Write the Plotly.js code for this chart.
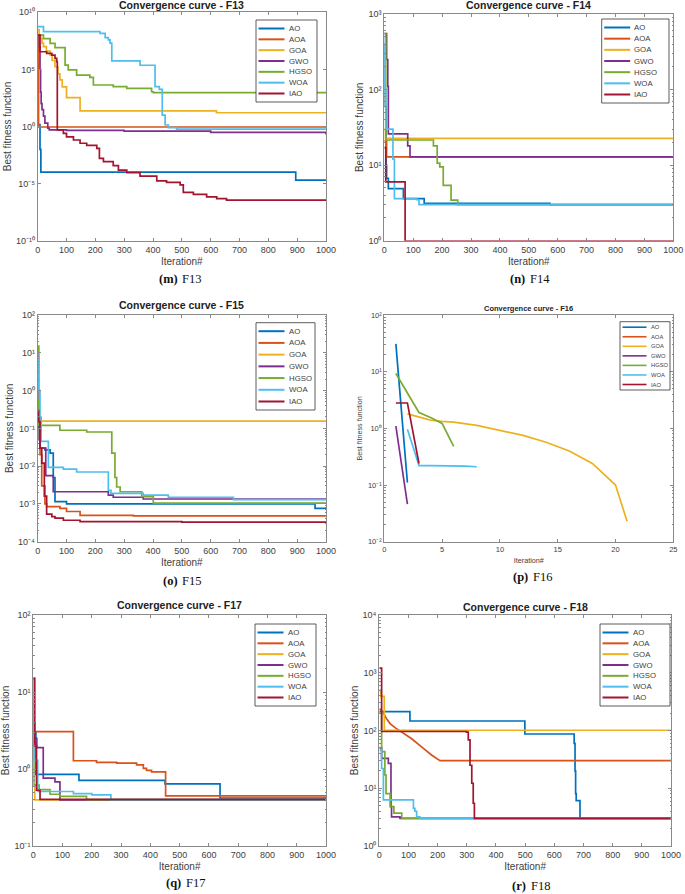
<!DOCTYPE html>
<html>
<head>
<meta charset="utf-8">
<script src="https://cdn.plot.ly/plotly-3.0.1.min.js"></script>
<style>html,body{margin:0;padding:0;background:#fff;}#chart{width:685px;height:894px;}</style>
</head>
<body>
<div id="chart"></div>
<script>
// ---------------- DATA ----------------
const algorithms = ['AO', 'AOA', 'GOA', 'GWO', 'HGSO', 'WOA', 'IAO'];
const colors = ['#0072BD', '#D95319', '#EDB120', '#7E2F8E', '#77AC30', '#4DBEEE', '#A2142F'];

// F13 (iteration breakpoints / best fitness), one row per algorithm in legend order
const F13_x = [
  [0, 5, 8, 11, 895, 1000],
  [0, 3, 1000],
  [0, 5, 10, 15, 20, 30, 43, 50, 60, 70, 77, 85, 100, 147, 620, 1000],
  [0, 3, 6, 8, 10, 12, 15, 20, 25, 35, 40, 100, 300, 600, 1000],
  [0, 3, 20, 43, 60, 95, 106, 135, 181, 193, 262, 309, 395, 401, 1000],
  [0, 20, 216, 234, 245, 251, 257, 355, 407, 422, 432, 442, 453, 482, 1000],
  [0, 8, 31, 49, 60, 66, 68, 89, 100, 124, 147, 170, 205, 214, 228, 262, 280, 309, 355, 413, 447, 494, 505, 540, 586, 621, 655, 1000]
];
const F13_y = [
  [1.5, 1.5, 1e-2, 1e-4, 2e-5, 2e-5],
  [1e8, 0.9, 0.9],
  [3e8, 1e8, 5e7, 2e7, 1e7, 4e6, 1.8e6, 6e5, 1.7e5, 4e4, 1.2e4, 3e3, 340, 23, 16, 14],
  [1e8, 1e8, 1e7, 1e5, 1e3, 100, 30, 8, 2, 0.7, 0.5, 0.45, 0.4, 0.3, 0.2],
  [1e8, 1e8, 5e7, 1.9e7, 8e6, 2.4e5, 9e4, 3.2e4, 2e4, 4.3e3, 3.1e3, 2.2e3, 1.1e3, 9.1e2, 9.1e2],
  [5.5e8, 2e8, 1.4e8, 6e7, 3.8e7, 2e7, 5.5e5, 2.3e5, 3.1e3, 1.8e3, 10, 1.35, 0.8, 0.6, 0.6],
  [1e8, 3.5e6, 2.5e6, 1.8e6, 9.4e5, 4.8e5, 0.5, 0.25, 0.125, 0.066, 0.034, 0.022, 0.012, 1.6e-3, 8.3e-4, 3.7e-4, 1.5e-4, 9e-5, 4.6e-5, 1.7e-5, 1.3e-5, 7.6e-6, 1.7e-6, 1.15e-6, 7e-7, 4.8e-7, 3.6e-7, 3.6e-7]
];

// F14
const F14_x = [
  [0, 3, 6, 8, 14, 66, 138, 573, 1000],
  [0, 3, 8, 1000],
  [0, 4, 1000],
  [0, 3, 8, 12, 14, 74, 81, 89, 1000],
  [0, 1, 5, 170, 183, 192, 204, 231, 254, 1000],
  [0, 3, 5, 25, 30, 35, 112, 120, 1000],
  [0, 2, 5, 66, 72, 1000]
];
const F14_y = [
  [400, 60, 10, 6.7, 4.9, 3.6, 3.12, 3.0, 3.0],
  [21, 21, 12.9, 12.9],
  [30, 22.6, 22.6],
  [550, 550, 250, 110, 26, 26, 18, 12.9, 12.9],
  [550, 550, 21.5, 18, 10.6, 9.5, 5.4, 3.45, 3.0, 3.0],
  [500, 100, 30, 30, 12, 3.6, 3.5, 3.0, 3.0],
  [17, 17, 6.0, 6.0, 0.99, 0.99]
];

// F15
const F15_x = [
  [0, 2, 8, 25, 43, 54, 60, 100, 962, 1000],
  [0, 3, 8, 14, 25, 31, 77, 100, 147, 332, 1000],
  [0, 1000],
  [0, 2, 5, 8, 28, 54, 245, 262, 366, 1000],
  [0, 4, 77, 170, 257, 268, 274, 286, 361, 401, 1000],
  [0, 3, 8, 12, 37, 89, 135, 245, 254, 366, 453, 679, 1000],
  [0, 3, 8, 14, 23, 31, 49, 60, 89, 147, 500, 1000]
];
const F15_y = [
  [0.3, 0.1, 0.03, 0.027, 0.022, 0.005, 1.15e-3, 1.0e-3, 7.6e-4, 7.6e-4],
  [1, 0.2, 0.02, 3e-3, 1e-3, 8.5e-4, 7.6e-4, 6.3e-4, 5e-4, 4.8e-4, 4.6e-4],
  [0.155, 0.155],
  [1, 0.5, 0.05, 0.03, 5.6e-3, 2.1e-3, 1.7e-3, 1.5e-3, 1.35e-3, 1.3e-3],
  [15, 0.12, 0.089, 0.08, 0.022, 5e-3, 2.8e-3, 2.1e-3, 1.55e-3, 1.05e-3, 1.05e-3],
  [8, 1.0, 0.2, 0.045, 9.3e-3, 8.3e-3, 7e-3, 2.3e-3, 1.9e-3, 1.7e-3, 1.5e-3, 1.3e-3, 1.25e-3],
  [0.3, 0.15, 0.03, 0.012, 1.6e-3, 5.4e-4, 4.6e-4, 4.2e-4, 3.7e-4, 3.4e-4, 3.3e-4, 3.3e-4]
];

// F16
const F16_x = [
  [1, 2],
  [1],
  [2, 4, 5, 6, 8, 10, 12, 14, 16, 18, 20, 21],
  [1, 2],
  [1, 2, 3, 4, 5, 6],
  [2, 3, 4, 5, 6, 7, 8],
  [1, 2, 3]
];
const F16_y = [
  [31, 0.11],
  [2.8],
  [1.8, 1.4, 1.33, 1.29, 1.13, 0.93, 0.75, 0.57, 0.40, 0.24, 0.10, 0.023],
  [1.1, 0.046],
  [9.3, 4.1, 1.9, 1.55, 1.22, 0.48],
  [0.96, 0.22, 0.22, 0.22, 0.22, 0.215, 0.21],
  [2.8, 2.8, 0.24]
];

// F17
const F17_x = [
  [0, 3, 9, 156, 450, 638, 1000],
  [0, 5, 137, 216, 285, 353, 376, 387, 404, 452, 1000],
  [0, 5, 1000],
  [0, 6, 12, 34, 74, 91, 1000],
  [0, 2, 20, 57, 91, 182, 1000],
  [0, 2, 15, 137, 200, 265, 1000],
  [0, 5, 11, 23, 1000]
];
const F17_y = [
  [15, 3, 0.85, 0.71, 0.64, 0.42, 0.42],
  [4, 3.05, 1.28, 1.22, 1.19, 1.13, 1.02, 0.96, 0.92, 0.447, 0.447],
  [0.6, 0.398, 0.398],
  [2.5, 2.5, 1.9, 0.76, 0.68, 0.398, 0.398],
  [3, 0.62, 0.54, 0.47, 0.44, 0.40, 0.40],
  [8, 1.3, 0.51, 0.48, 0.46, 0.40, 0.40],
  [15, 2, 0.53, 0.403, 0.403]
];

// F18
const F18_x = [
  [0, 105, 499, 668, 671, 673, 675, 688, 1000],
  [1, 14, 25, 37, 54, 82, 111, 145, 179, 208, 1000],
  [0, 5, 17, 1000],
  [0, 8, 31, 40, 42, 71, 1000],
  [0, 8, 19, 23, 37, 50, 77, 1000],
  [0, 8, 14, 117, 122, 128, 139, 1000],
  [0, 8, 299, 305, 311, 317, 322, 326, 1000]
];
const F18_y = [
  [213, 146, 87, 60, 20, 8.1, 6.1, 3.0, 3.0],
  [240, 200, 160, 132, 112, 91, 72, 52, 37.6, 30, 30],
  [500, 390, 101, 101],
  [50, 33, 27, 4.8, 3.2, 3.0, 3.0],
  [200, 43, 17, 8.1, 4.8, 3.7, 3.0, 3.0],
  [46, 22, 6.3, 4.5, 4.0, 3.2, 3.0, 3.0],
  [1200, 96, 94, 69, 25, 12.2, 5.5, 3.0, 3.0]
];

// ---------------- LAYOUT (pixel positions of each panel) ----------------
const W = 685, H = 894;
const panels = [
  {name: 'F13', tag: '(m)', xs: F13_x, ys: F13_y, box: [37.7, 12.3, 326, 240.7], xr: [0, 1000], dx: 100, yr: [-10, 10], dy: 5, minor: false,
   legend: [256, 20, 317, 102], titleY: 5.5, cap: [180, 279], small: false, shape: 'hv'},
  {name: 'F14', tag: '(n)', xs: F14_x, ys: F14_y, box: [384.3, 14, 673.3, 240.7], xr: [0, 1000], dx: 100, yr: [0, 3], dy: 1, minor: true,
   legend: [601.7, 19, 669, 103], titleY: 5.5, cap: [527, 279], small: false, shape: 'hv'},
  {name: 'F15', tag: '(o)', xs: F15_x, ys: F15_y, box: [37.7, 315, 326, 541.7], xr: [0, 1000], dx: 100, yr: [-4, 2], dy: 1, minor: true,
   legend: [256, 322.7, 315, 410], titleY: 305, cap: [180, 581], small: false, shape: 'hv'},
  {name: 'F16', tag: '(p)', xs: F16_x, ys: F16_y, box: [384.3, 315, 673.3, 541.7], xr: [0, 25], dx: 5, yr: [-2, 2], dy: 1, minor: true,
   legend: [620, 321.7, 670, 390], titleY: 308, cap: [530, 577], small: true, shape: 'linear'},
  {name: 'F17', tag: '(q)', xs: F17_x, ys: F17_y, box: [33.3, 615, 326, 846], xr: [0, 1000], dx: 100, yr: [-1, 2], dy: 1, minor: true,
   legend: [255, 624, 316, 706], titleY: 605, cap: [183, 883], small: false, shape: 'hv'},
  {name: 'F18', tag: '(r)', xs: F18_x, ys: F18_y, box: [379.3, 615, 671, 846], xr: [0, 1000], dx: 100, yr: [0, 4], dy: 1, minor: true,
   legend: [600, 624, 670, 706], titleY: 607, cap: [528, 886], small: false, shape: 'hv', linearSeries: [1]}
];

const FONT = 'Liberation Sans, Arial, Helvetica, sans-serif';
const SERIF = 'Liberation Serif, Times New Roman, serif';
const AX = '#8a8a8a', TXT = '#404040';
const fx = v => v / W, fy = v => 1 - v / H;
const SUP = {'-': '\u207B', '0': '\u2070', '1': '\u00B9', '2': '\u00B2', '3': '\u00B3', '4': '\u2074', '5': '\u2075', '6': '\u2076', '7': '\u2077', '8': '\u2078', '9': '\u2079'};
const sup = s => String(s).split('').map(c => SUP[c]).join('');

const traces = [], annotations = [], shapes = [];
const layout = {
  width: W, height: H, margin: {l: 0, r: 0, t: 0, b: 0},
  paper_bgcolor: '#fff', plot_bgcolor: '#fff', showlegend: false,
  font: {family: FONT, color: TXT}
};

panels.forEach((p, i) => {
  const n = i === 0 ? '' : String(i + 1);
  const xa = 'x' + n, ya = 'y' + n;
  const [l, t, r, b] = p.box;
  const tickSize = p.small ? 7.5 : 9;
  const lSize = p.small ? 7.2 : 10;
  const common = {
    showline: true, linecolor: AX, linewidth: 1, mirror: 'ticks', ticks: 'inside', ticklen: 3, tickcolor: AX,
    showgrid: false, zeroline: false, automargin: false, tickfont: {family: FONT, size: tickSize, color: TXT}
  };
  layout['xaxis' + n] = Object.assign({}, common, {
    domain: [fx(l), fx(r)], anchor: ya, range: p.xr, tick0: 0, dtick: p.dx,
    title: {text: 'Iteration#', font: {family: FONT, size: lSize, color: TXT}, standoff: p.small ? 5 : 4}
  });
  const tv = [], tt = [];
  for (let e = p.yr[0]; e <= p.yr[1]; e += p.dy) { tv.push(Math.pow(10, e)); tt.push('10' + sup(e)); }
  const yax = Object.assign({}, common, {
    domain: [fy(b), fy(t)], anchor: xa, type: 'log', range: p.yr, tickmode: 'array', tickvals: tv, ticktext: tt,
    title: {text: 'Best fitness function', font: {family: FONT, size: lSize, color: TXT}, standoff: p.small ? 4 : 2}
  });
  if (p.minor) yax.minor = {ticks: 'inside', ticklen: 1.5, tickcolor: AX, dtick: 'D1'};
  layout['yaxis' + n] = yax;

  algorithms.forEach((alg, k) => {
    let shape = p.shape;
    if (p.linearSeries && p.linearSeries.includes(k)) shape = 'linear';
    traces.push({
      type: 'scatter', mode: 'lines', name: alg, x: p.xs[k], y: p.ys[k], xaxis: xa, yaxis: ya,
      line: {color: colors[k], width: 1.7, shape: shape}, showlegend: false
    });
  });

  const cx = (l + r) / 2;
  const tSize = p.small ? 7.5 : 10.5;
  annotations.push({xref: 'paper', yref: 'paper', x: fx(cx), y: fy(p.titleY), text: 'Convergence curve - ' + p.name,
    showarrow: false, xanchor: 'center', yanchor: 'middle', font: {family: FONT, size: tSize, color: '#222', weight: 'bold'}});
  // caption: bold tag + regular function name
  annotations.push({xref: 'paper', yref: 'paper', x: fx(p.cap[0] - 0.5), y: fy(p.cap[1]), text: p.tag,
    showarrow: false, xanchor: 'right', yanchor: 'middle', font: {family: SERIF, size: 12.5, color: '#111', weight: 'bold'}});
  annotations.push({xref: 'paper', yref: 'paper', x: fx(p.cap[0] + 0.5), y: fy(p.cap[1]), text: p.name,
    showarrow: false, xanchor: 'left', yanchor: 'middle', font: {family: SERIF, size: 12.5, color: '#111'}});

  // legend box
  const [lx0, ly0, lx1, ly1] = p.legend;
  shapes.push({type: 'rect', xref: 'paper', yref: 'paper', x0: fx(lx0), x1: fx(lx1), y0: fy(ly1), y1: fy(ly0),
    line: {color: '#333', width: 0.8}, fillcolor: '#fff', layer: 'above'});
  const pad = p.small ? 5.5 : 8.5;
  const step = (ly1 - ly0 - 2 * pad) / (algorithms.length - 1);
  const lineLen = p.small ? 24 : 26;
  algorithms.forEach((alg, k) => {
    const yy = ly0 + pad + k * step;
    shapes.push({type: 'line', xref: 'paper', yref: 'paper', x0: fx(lx0 + 2.5), x1: fx(lx0 + 2.5 + lineLen), y0: fy(yy), y1: fy(yy),
      line: {color: colors[k], width: p.small ? 1.6 : 2}, layer: 'above'});
    annotations.push({xref: 'paper', yref: 'paper', x: fx(lx0 + 4.5 + lineLen), y: fy(yy), text: alg,
      showarrow: false, xanchor: 'left', yanchor: 'middle', font: {family: FONT, size: p.small ? 5.8 : 7.8, color: TXT}});
  });
});

layout.annotations = annotations;
layout.shapes = shapes;
Plotly.newPlot('chart', traces, layout, {staticPlot: true, displayModeBar: false});
</script>
</body>
</html>
